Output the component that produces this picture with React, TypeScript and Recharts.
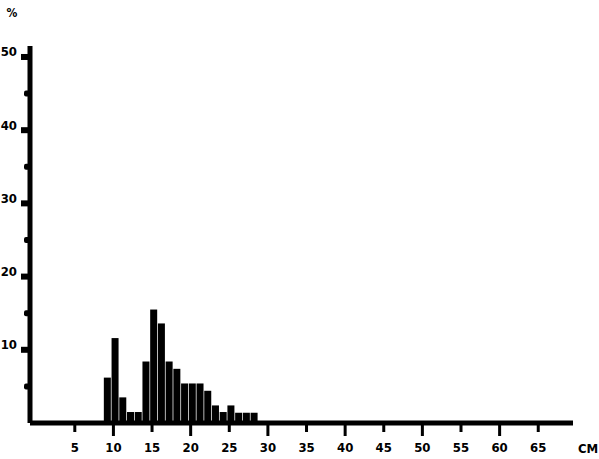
import React from 'react';
import { BarChart, Bar, XAxis, YAxis } from 'recharts';

const lengthsCm = [9, 10, 11, 12, 13, 14, 15, 16, 17, 18, 19, 20, 21, 22, 23, 24, 25, 26, 27, 28];
const percentValues = [6.2, 11.6, 3.5, 1.5, 1.5, 8.4, 15.5, 13.6, 8.4, 7.4, 5.4, 5.4, 5.4, 4.4, 2.4, 1.5, 2.4, 1.4, 1.4, 1.4];
const xTicks = [5, 10, 15, 20, 25, 30, 35, 40, 45, 50, 55, 60, 65];
const yTicks = [5, 10, 15, 20, 25, 30, 35, 40, 45, 50];
const yLabelled = [10, 20, 30, 40, 50];
const xUnit = 'CM';
const yUnit = '%';

const data = lengthsCm.map((cm, i) => ({ cm, pct: percentValues[i] }));

const FONT = '"DejaVu Sans Condensed", "DejaVu Sans", sans-serif';

const XTick = (props: any) => {
  const { x, y, payload } = props;
  const v = payload.value as number;
  const major = v % 10 === 0;
  return (
    <g>
      <rect x={x - 1.5} y={y + 1} width={3} height={major ? 12 : 8} fill="#000" />
      <text x={x} y={y + 29} textAnchor="middle" fontFamily={FONT} fontWeight="bold" fontSize={13} fill="#000">
        {v}
      </text>
    </g>
  );
};

const YTick = (props: any) => {
  const { x, y, payload } = props;
  const v = payload.value as number;
  const major = yLabelled.includes(v);
  return (
    <g>
      {major ? (
        <rect x={x - 9} y={y - 3} width={10} height={6} fill="#000" />
      ) : (
        <rect x={x - 6} y={y - 3} width={7} height={6} rx={2} fill="#000" />
      )}
      {major && (
        <text x={x - 13} y={y - 5} textAnchor="end" dominantBaseline="central" fontFamily={FONT} fontWeight="bold" fontSize={13} fill="#000">
          {v}
        </text>
      )}
    </g>
  );
};

const ShiftedBar = (props: any) => {
  const { x, y, width, height } = props;
  if (!height || height <= 0) return null;
  return <rect x={x + 2} y={y} width={width} height={height} fill="#000" />;
};

export default function App() {
  return (
    <div style={{ position: 'absolute', left: 0, top: 0, background: '#fff' }}>
      <BarChart
        width={599}
        height={459}
        data={data}
        margin={{ top: 46, right: 26, bottom: 35, left: 29 }}
      >
        <XAxis
          dataKey="cm"
          type="number"
          domain={[-0.8, 69.5]}
          ticks={xTicks}
          interval={0}
          height={1}
          tickSize={0}
          tickMargin={0}
          tick={<XTick />}
          axisLine={{ stroke: '#000', strokeWidth: 5 }}
          tickLine={false}
          allowDataOverflow
        />
        <YAxis
          type="number"
          domain={[0, 51.5]}
          ticks={yTicks}
          interval={0}
          width={1}
          tickSize={0}
          tickMargin={0}
          tick={<YTick />}
          axisLine={{ stroke: '#000', strokeWidth: 5 }}
          tickLine={false}
          allowDataOverflow
        />
        <Bar dataKey="pct" fill="#000" barSize={7} isAnimationActive={false} shape={<ShiftedBar />} />
      </BarChart>
      <svg width={599} height={459} style={{ position: 'absolute', left: 0, top: 0, pointerEvents: 'none' }}>
        <text x={12} y={17} textAnchor="middle" fontFamily={FONT} fontWeight="bold" fontSize={12} fill="#000">{yUnit}</text>
        <text x={588} y={453} textAnchor="middle" fontFamily={FONT} fontWeight="bold" fontSize={13} fill="#000">{xUnit}</text>
      </svg>
    </div>
  );
}
